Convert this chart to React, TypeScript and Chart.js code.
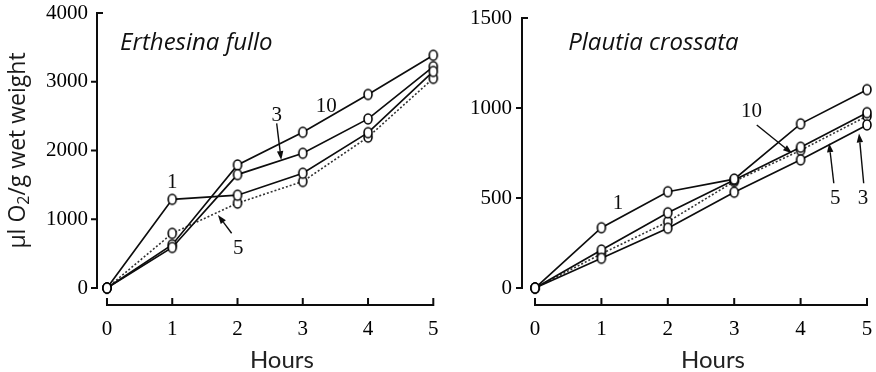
import { useEffect, useRef } from "react";
import { Chart, registerables } from "chart.js";

Chart.register(...registerables);

const hours = [0, 1, 2, 3, 4, 5];

// Erthesina fullo — µl O2 per g wet weight, by group size
const erthesina1 = [0, 1290, 1350, 1670, 2260, 3150];
const erthesina3 = [0, 590, 1650, 1960, 2460, 3220];
const erthesina5 = [0, 795, 1235, 1550, 2195, 3050];
const erthesina10 = [0, 630, 1790, 2265, 2815, 3385];
const erthesinaTicks = [0, 1000, 2000, 3000, 4000];

// Plautia crossata — µl O2 per g wet weight, by group size
const plautia1 = [0, 335, 535, 605, 912, 1102];
const plautia3 = [0, 165, 332, 532, 712, 906];
const plautia5 = [0, 190, 368, 592, 765, 955];
const plautia10 = [0, 211, 418, 600, 782, 974];
const plautiaTicks = [0, 500, 1000, 1500];

const INK = "#0d0d0d";
const SERIF = "'Liberation Serif', 'Times New Roman', serif";
const SANS = "Lato, 'Open Sans', sans-serif";
const WIDE_SANS = "'Open Sans', Lato, sans-serif";
const HEIGHT = 372;
const AXIS_Y = 305;

type Note = { text: string; x: number; y: number; arrow?: [number, number, number, number] };
type Series = { values: number[]; dotted: boolean };
type Panel = {
  title: string;
  titleAt: [number, number];
  series: Series[];
  yTicks: number[];
  yMin: number;
  xMin: number;
  width: number;
  axisLeft: number;
  top: number;
  right: number;
  yLabelPad: number;
  notes: Note[];
  yTitle: boolean;
};

const panels: Panel[] = [
  {
    title: "Erthesina fullo",
    titleAt: [0.2, 3564],
    series: [
      { values: erthesina1, dotted: false },
      { values: erthesina3, dotted: false },
      { values: erthesina10, dotted: false },
      { values: erthesina5, dotted: true },
    ],
    yTicks: erthesinaTicks,
    yMin: -247,
    xMin: -0.153,
    width: 440,
    axisLeft: 97,
    top: 13,
    right: 6,
    yLabelPad: 9,
    notes: [
      { text: "1", x: 1.0, y: 1532 },
      { text: "10", x: 3.36, y: 2637 },
      { text: "3", x: 2.6, y: 2516, arrow: [2.6, 2395, 2.67, 1862] },
      { text: "5", x: 2.01, y: 580, arrow: [1.91, 796, 1.7, 1062] },
    ],
    yTitle: true,
  },
  {
    title: "Plautia crossata",
    titleAt: [0.5, 1361],
    series: [
      { values: plautia1, dotted: false },
      { values: plautia3, dotted: false },
      { values: plautia10, dotted: false },
      { values: plautia5, dotted: true },
    ],
    yTicks: plautiaTicks,
    yMin: -94.4,
    xMin: -0.196,
    width: 436,
    axisLeft: 82,
    top: 18,
    right: 9,
    yLabelPad: 10,
    notes: [
      { text: "1", x: 1.25, y: 470 },
      { text: "10", x: 3.26, y: 979, arrow: [3.34, 906, 3.87, 748] },
      { text: "5", x: 4.52, y: 500, arrow: [4.5, 582, 4.43, 804] },
      { text: "3", x: 4.94, y: 500, arrow: [4.95, 582, 4.88, 859] },
    ],
    yTitle: false,
  },
];

function ellipseMarker(): HTMLCanvasElement {
  const c = document.createElement("canvas");
  c.width = 12;
  c.height = 14;
  const g = c.getContext("2d")!;
  g.beginPath();
  g.ellipse(6, 7, 4, 5, 0, 0, Math.PI * 2);
  g.fillStyle = "#fff";
  g.fill();
  g.lineWidth = 1.6;
  g.strokeStyle = "#000";
  g.stroke();
  return c;
}

function drawArrow(ctx: CanvasRenderingContext2D, x1: number, y1: number, x2: number, y2: number) {
  const a = Math.atan2(y2 - y1, x2 - x1);
  const len = 9;
  const half = 3.2;
  const bx = x2 - len * Math.cos(a);
  const by = y2 - len * Math.sin(a);
  ctx.beginPath();
  ctx.moveTo(x1, y1);
  ctx.lineTo(bx, by);
  ctx.lineWidth = 1.4;
  ctx.stroke();
  ctx.beginPath();
  ctx.moveTo(x2, y2);
  ctx.lineTo(bx - half * Math.sin(a), by + half * Math.cos(a));
  ctx.lineTo(bx + half * Math.sin(a), by - half * Math.cos(a));
  ctx.closePath();
  ctx.fill();
}

function decorPlugin(p: Panel) {
  return {
    id: "panelDecor",
    beforeDatasetsDraw(chart: any) {
      const { ctx, chartArea } = chart;
      const xs = chart.scales.x;
      const ys = chart.scales.y;
      ctx.save();
      ctx.strokeStyle = INK;
      ctx.lineWidth = 2;
      const ax = chartArea.left;
      const topV = p.yTicks[p.yTicks.length - 1];
      const top = ys.getPixelForValue(topV);
      const zero = ys.getPixelForValue(0);
      ctx.beginPath();
      ctx.moveTo(ax, top - 1);
      ctx.lineTo(ax, zero + 1);
      p.yTicks.forEach((v, i) => {
        const py = ys.getPixelForValue(v);
        if (i === p.yTicks.length - 1) {
          ctx.moveTo(ax, py);
          ctx.lineTo(ax + 6, py);
        } else {
          ctx.moveTo(ax - 6, py);
          ctx.lineTo(ax, py);
        }
      });
      const by = chartArea.bottom;
      const x0 = xs.getPixelForValue(hours[0]);
      const x5 = xs.getPixelForValue(hours[hours.length - 1]);
      ctx.moveTo(x0 - 1, by);
      ctx.lineTo(x5 + 1, by);
      hours.forEach((h) => {
        const px = xs.getPixelForValue(h);
        ctx.moveTo(px, by);
        ctx.lineTo(px, by - 7);
      });
      ctx.stroke();
      ctx.restore();
    },
    afterDatasetsDraw(chart: any) {
      const { ctx, chartArea } = chart;
      const xs = chart.scales.x;
      const ys = chart.scales.y;
      ctx.save();
      ctx.fillStyle = INK;
      ctx.strokeStyle = INK;

      // group-size labels and arrows
      ctx.font = `21px ${SERIF}`;
      ctx.textAlign = "center";
      ctx.textBaseline = "middle";
      p.notes.forEach((n) => {
        ctx.fillText(n.text, xs.getPixelForValue(n.x), ys.getPixelForValue(n.y));
        if (n.arrow) {
          const [ax1, ay1, ax2, ay2] = n.arrow;
          drawArrow(
            ctx,
            xs.getPixelForValue(ax1),
            ys.getPixelForValue(ay1),
            xs.getPixelForValue(ax2),
            ys.getPixelForValue(ay2)
          );
        }
      });

      // species name
      ctx.font = `italic 24px ${WIDE_SANS}`;
      ctx.textAlign = "left";
      ctx.fillStyle = "#111";
      ctx.fillText(p.title, xs.getPixelForValue(p.titleAt[0]), ys.getPixelForValue(p.titleAt[1]));

      // x axis title
      ctx.font = `24px ${SANS}`;
      ctx.textAlign = "center";
      ctx.fillStyle = "#222";
      ctx.fillText("Hours", xs.getPixelForValue(2.68), chartArea.bottom + 55);

      // y axis title with subscript
      if (p.yTitle) {
        const big = `23px ${WIDE_SANS}`;
        const small = `16px ${WIDE_SANS}`;
        const parts: [string, string, number][] = [
          ["μl O", big, 0],
          ["2", small, 6],
          ["/g wet weight", big, 0],
        ];
        let total = 0;
        parts.forEach(([t, f]) => {
          ctx.font = f;
          total += ctx.measureText(t).width;
        });
        const cy = (chartArea.top + ys.getPixelForValue(0)) / 2;
        ctx.translate(18, cy);
        ctx.rotate(-Math.PI / 2);
        ctx.textAlign = "left";
        ctx.textBaseline = "middle";
        ctx.fillStyle = "#1a1a1a";
        let x = -total / 2;
        parts.forEach(([t, f, dy]) => {
          ctx.font = f;
          ctx.fillText(t, x, dy);
          x += ctx.measureText(t).width;
        });
      }
      ctx.restore();
    },
  };
}

function PanelChart({ p }: { p: Panel }) {
  const ref = useRef<HTMLCanvasElement>(null);
  useEffect(() => {
    const marker = ellipseMarker();
    const chart = new Chart(ref.current!, {
      type: "line",
      data: {
        datasets: p.series.map((s) => ({
          data: hours.map((h, i) => ({ x: h, y: s.values[i] })),
          borderColor: s.dotted ? "#333" : INK,
          borderWidth: s.dotted ? 1.6 : 1.7,
          borderDash: s.dotted ? [2, 2] : [],
          pointStyle: marker as any,
          pointRadius: 5,
          pointBackgroundColor: "#fff",
          pointBorderColor: INK,
          tension: 0,
          fill: false,
          clip: false as any,
        })),
      },
      options: {
        responsive: false,
        animation: false,
        events: [],
        layout: { padding: { top: p.top, right: p.right, left: 0, bottom: 0 } },
        plugins: { legend: { display: false }, tooltip: { enabled: false } },
        scales: {
          x: {
            type: "linear",
            min: p.xMin,
            max: 5,
            grid: { display: false, drawTicks: false },
            border: { display: false },
            ticks: {
              font: { family: SERIF, size: 21 },
              color: "#000",
              padding: 12,
              autoSkip: false,
              maxRotation: 0,
              callback: (v: any) => String(v),
            },
            afterBuildTicks: (s: any) => {
              s.ticks = hours.map((v) => ({ value: v }));
            },
            afterFit: (s: any) => {
              s.height = HEIGHT - AXIS_Y;
              s.paddingLeft = 0;
              s.paddingRight = 0;
            },
          },
          y: {
            type: "linear",
            min: p.yMin,
            max: p.yTicks[p.yTicks.length - 1],
            grid: { display: false, drawTicks: false },
            border: { display: false },
            ticks: {
              font: { family: SERIF, size: 21 },
              color: "#000",
              padding: p.yLabelPad,
              callback: (v: any) => String(v),
            },
            afterBuildTicks: (s: any) => {
              s.ticks = p.yTicks.map((v) => ({ value: v }));
            },
            afterFit: (s: any) => {
              s.width = p.axisLeft;
              s.paddingTop = 0;
              s.paddingBottom = 0;
            },
          },
        },
      },
      plugins: [decorPlugin(p)],
    });
    return () => chart.destroy();
  }, [p]);
  return (
    <canvas
      ref={ref}
      width={p.width}
      height={HEIGHT}
      style={{ width: p.width, height: HEIGHT, display: "block" }}
    />
  );
}

export default function App() {
  return (
    <div
      style={{
        position: "absolute",
        left: 0,
        top: 0,
        width: 876,
        height: HEIGHT,
        display: "flex",
        background: "#fff",
      }}
    >
      {panels.map((p) => (
        <PanelChart key={p.title} p={p} />
      ))}
    </div>
  );
}
